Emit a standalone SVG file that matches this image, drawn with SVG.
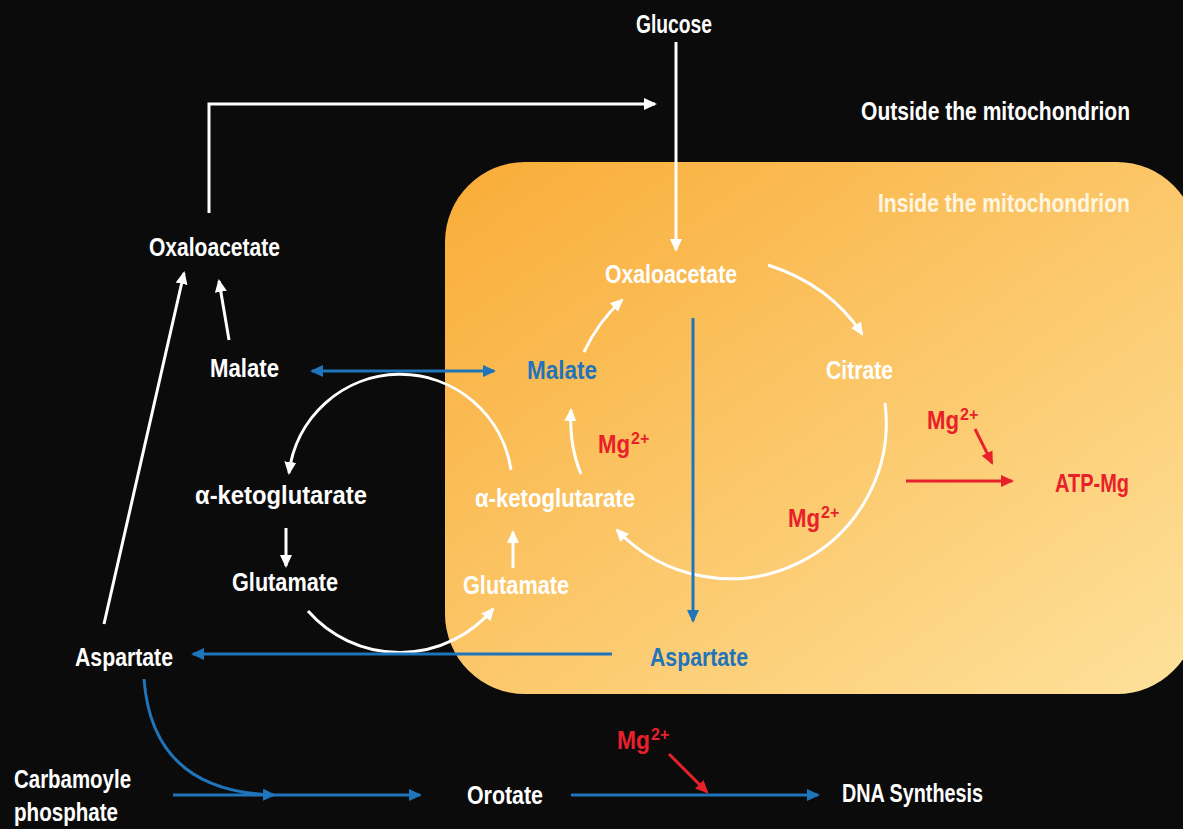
<svg xmlns="http://www.w3.org/2000/svg" width="1183" height="829" viewBox="0 0 1183 829">
<defs>
<linearGradient id="mito" x1="0" y1="0" x2="1" y2="1">
<stop offset="0" stop-color="#F9AC37"/>
<stop offset="1" stop-color="#FEE29C"/>
</linearGradient>
<marker id="aw" markerUnits="userSpaceOnUse" markerWidth="14" markerHeight="14" refX="11" refY="7" orient="auto-start-reverse" viewBox="0 0 14 14"><path d="M0,1 L13,7 L0,13 z" fill="#fff"/></marker>
<marker id="ab" markerUnits="userSpaceOnUse" markerWidth="14" markerHeight="14" refX="11" refY="7" orient="auto-start-reverse" viewBox="0 0 14 14"><path d="M0,1 L13,7 L0,13 z" fill="#1F74BA"/></marker>
<marker id="ar" markerUnits="userSpaceOnUse" markerWidth="14" markerHeight="14" refX="11" refY="7" orient="auto-start-reverse" viewBox="0 0 14 14"><path d="M0,1 L13,7 L0,13 z" fill="#E8202A"/></marker>
</defs>
<style>
text{font-family:"Liberation Sans",Arial,sans-serif;font-weight:bold;font-size:26px}
.w{fill:#fff}
.b{fill:#1F74BA}
.r{fill:#E8202A}
.in{fill:#FFF6E2}
.cw{fill:none;stroke:#fff;stroke-width:3;marker-end:url(#aw)}
.cb{fill:none;stroke:#1F74BA;stroke-width:3;marker-end:url(#ab)}
.cr{fill:none;stroke:#E8202A;stroke-width:3;marker-end:url(#ar)}
.sup{font-size:16px}
</style>
<rect width="1183" height="829" fill="#0C0B0B"/>
<rect id="mitochondrion" x="445" y="162" width="752" height="532" rx="80" ry="80" fill="url(#mito)"/>

<g id="connectors">
<path class="cw" d="M676,42 L676,250"/>
<path class="cw" d="M209,213 L209,104 L655,104"/>
<path class="cw" d="M229,340 L219,281"/>
<path class="cw" d="M104,624 L184,273"/>
<path class="cb" d="M312,371 L494,371" marker-start="url(#ab)"/>
<path class="cw" d="M511,470 A112,112 0 0 0 289,473"/>
<path class="cw" d="M286,528 L286,566"/>
<path class="cw" d="M308,611 A122,122 0 0 0 493,609"/>
<path class="cw" d="M513,568 L513,532"/>
<path class="cw" d="M581,474 Q569,445 571,410"/>
<path class="cw" d="M584,352 Q598,322 622,300"/>
<path class="cw" d="M768,265 Q830,285 862,334"/>
<path class="cw" d="M885,403 A156,156 0 0 1 617,530"/>
<path class="cb" d="M693,318 L693,621"/>
<path class="cb" d="M612,654 L193,654"/>
<path class="cr" d="M906,481 L1012,481"/>
<path class="cr" d="M975,429 L992,463"/>
<path class="cb" d="M144,679 C150,760 200,793 274,795"/>
<path class="cb" d="M173,795 L420,795"/>
<path class="cb" d="M571,795 L818,795"/>
<path class="cr" d="M669,754 L707,792"/>
</g>

<g id="glucose"><text class="w" x="636" y="33" textLength="76" lengthAdjust="spacingAndGlyphs">Glucose</text></g>
<g id="outside-label"><text class="w" x="861" y="120" textLength="269" lengthAdjust="spacingAndGlyphs">Outside the mitochondrion</text></g>
<g id="inside-label"><text class="in" x="878" y="212" textLength="252" lengthAdjust="spacingAndGlyphs">Inside the mitochondrion</text></g>

<g id="oxaloacetate-out"><text class="w" x="149" y="256" textLength="131" lengthAdjust="spacingAndGlyphs">Oxaloacetate</text></g>
<g id="malate-out"><text class="w" x="210" y="377" textLength="69" lengthAdjust="spacingAndGlyphs">Malate</text></g>
<g id="akg-out"><text class="w" x="195" y="504" textLength="172" lengthAdjust="spacingAndGlyphs">α-ketoglutarate</text></g>
<g id="glutamate-out"><text class="w" x="232" y="591" textLength="106" lengthAdjust="spacingAndGlyphs">Glutamate</text></g>
<g id="aspartate-out"><text class="w" x="75" y="666" textLength="98" lengthAdjust="spacingAndGlyphs">Aspartate</text></g>
<g id="carbamoyle"><text class="w" x="14" y="788" textLength="117" lengthAdjust="spacingAndGlyphs">Carbamoyle</text><text class="w" x="14" y="821" textLength="104" lengthAdjust="spacingAndGlyphs">phosphate</text></g>
<g id="orotate"><text class="w" x="467" y="804" textLength="76" lengthAdjust="spacingAndGlyphs">Orotate</text></g>
<g id="dna"><text class="w" x="842" y="802" textLength="141" lengthAdjust="spacingAndGlyphs">DNA Synthesis</text></g>
<g id="mg-bottom"><text class="r" x="617" y="749" textLength="33" lengthAdjust="spacingAndGlyphs">Mg</text><text class="r sup" x="651" y="740">2+</text></g>

<g id="oxaloacetate-in"><text class="w" x="605" y="283" textLength="132" lengthAdjust="spacingAndGlyphs">Oxaloacetate</text></g>
<g id="malate-in"><text class="b" x="527" y="379" textLength="70" lengthAdjust="spacingAndGlyphs">Malate</text></g>
<g id="citrate"><text class="w" x="826" y="379" textLength="67" lengthAdjust="spacingAndGlyphs">Citrate</text></g>
<g id="akg-in"><text class="w" x="475" y="507" textLength="160" lengthAdjust="spacingAndGlyphs">α-ketoglutarate</text></g>
<g id="glutamate-in"><text class="w" x="463" y="594" textLength="106" lengthAdjust="spacingAndGlyphs">Glutamate</text></g>
<g id="aspartate-in"><text class="b" x="650" y="666" textLength="98" lengthAdjust="spacingAndGlyphs">Aspartate</text></g>
<g id="atp-mg"><text class="r" x="1055" y="492" textLength="74" lengthAdjust="spacingAndGlyphs">ATP-Mg</text></g>
<g id="mg-atp"><text class="r" x="927" y="429" textLength="32" lengthAdjust="spacingAndGlyphs">Mg</text><text class="r sup" x="960" y="420">2+</text></g>
<g id="mg-akg"><text class="r" x="598" y="453" textLength="32" lengthAdjust="spacingAndGlyphs">Mg</text><text class="r sup" x="631" y="444">2+</text></g>
<g id="mg-citrate"><text class="r" x="788" y="527" textLength="32" lengthAdjust="spacingAndGlyphs">Mg</text><text class="r sup" x="821" y="518">2+</text></g>
</svg>
